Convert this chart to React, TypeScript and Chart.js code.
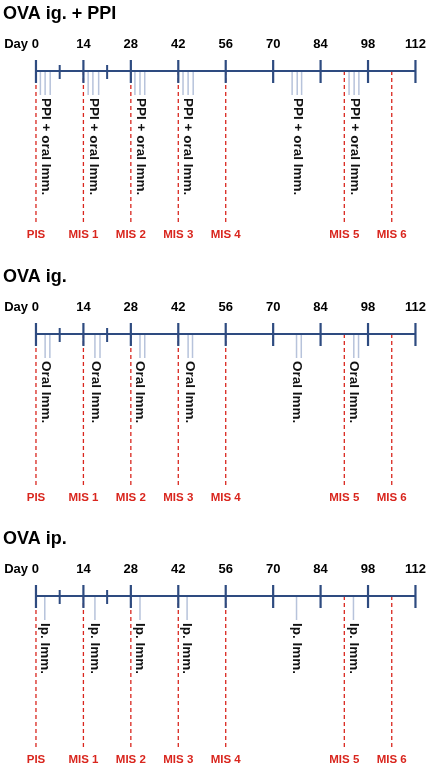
import React, { useEffect, useRef } from "react";
import { Chart, registerables } from "chart.js";

Chart.register(...registerables);

// ---------------- data ----------------
const MAJOR_DAYS = [0, 14, 28, 42, 56, 70, 84, 98, 112];
const MINOR_DAYS = [7, 21];
const MIS_DAYS = [0, 14, 28, 42, 56, 91, 105];
const MIS_LABELS = ["PIS", "MIS 1", "MIS 2", "MIS 3", "MIS 4", "MIS 5", "MIS 6"];

const PANEL_TITLES = ["OVA ig. + PPI", "OVA ig.", "OVA ip."];
const IMM_TEXTS = ["PPI + oral Imm.", "Oral Imm.", "Ip. Imm."];

const PPI_IMM_DAYS = [
  1.3, 2.7, 4.2, 15.4, 16.8, 18.5, 29.2, 30.7, 32.1, 43.4, 44.9, 46.4, 75.6,
  77.1, 78.4, 92.4, 93.9, 95.3,
];
const ORAL_IMM_DAYS = [
  2.7, 4.1, 17.4, 18.9, 30.7, 32.1, 44.9, 46.2, 76.9, 78.3, 93.8, 95.2,
];
const IP_IMM_DAYS = [2.6, 17.4, 30.7, 44.6, 76.9, 93.7];

const PPI_LABEL_DAYS = [2.8, 17.1, 30.8, 44.9, 77.2, 94.0];
const ORAL_LABEL_DAYS = [2.9, 17.6, 30.6, 45.3, 77.1, 93.9];
const IP_LABEL_DAYS = [2.6, 17.4, 30.7, 44.6, 76.9, 93.7];

const IMM_DAYS = [PPI_IMM_DAYS, ORAL_IMM_DAYS, IP_IMM_DAYS];
const LABEL_DAYS = [PPI_LABEL_DAYS, ORAL_LABEL_DAYS, IP_LABEL_DAYS];

// ---------------- style / layout ----------------
const FONT = '"Liberation Sans", Arial, Helvetica, sans-serif';
const NAVY = "#2e4b80";
const RED = "#d9261e";
const LIGHT = "#b7c3db";

const W = 430;
const H = 243;
const PAD_LR = 3;
const DAY0_PX = 35;
const DAY112_PX = 416;
const PX_PER_DAY = (DAY112_PX - DAY0_PX) / 112;
const X_MIN = -(DAY0_PX - PAD_LR) / PX_PER_DAY;
const X_MAX = 112 + (W - PAD_LR - DAY112_PX) / PX_PER_DAY;

const AREA_TOP = 56;
const AXIS_Y = 71;
const AREA_BOTTOM = 225;
const TITLE_PAD_TOP = 3;
const TITLE_SIZE = 18;
const TITLE_BOX = TITLE_SIZE * 1.2 + TITLE_PAD_TOP;

const PANEL_TOPS = [0, 263, 525];

function segments(days: number[], y0: number, y1: number) {
  const out: any[] = [];
  days.forEach((d) => {
    out.push({ x: d, y: y0 }, { x: d, y: y1 }, { x: d, y: null });
  });
  return out;
}

function lineDs(data: any[], color: string, width: number, order: number, dash: number[] = []) {
  return {
    type: "line" as const,
    data,
    borderColor: color,
    backgroundColor: color,
    borderWidth: width,
    borderDash: dash,
    borderCapStyle: "butt" as const,
    pointRadius: 0,
    pointHoverRadius: 0,
    showLine: true,
    spanGaps: false,
    fill: false,
    tension: 0,
    order,
    clip: false as any,
  };
}

function labelPlugin(days: number[], text: string) {
  return {
    id: "immLabels",
    afterDatasetsDraw(chart: any) {
      const { ctx } = chart;
      const x = chart.scales.x;
      const y = chart.scales.y;
      ctx.save();
      ctx.font = `bold 13.5px ${FONT}`;
      ctx.fillStyle = "#111";
      ctx.textAlign = "left";
      ctx.textBaseline = "middle";
      days.forEach((d) => {
        ctx.save();
        ctx.translate(x.getPixelForValue(d), y.getPixelForValue(27));
        ctx.rotate(Math.PI / 2);
        ctx.fillText(text, 0, 0);
        ctx.restore();
      });
      ctx.restore();
    },
  };
}

function Panel({ idx }: { idx: number }) {
  const ref = useRef<HTMLCanvasElement | null>(null);
  useEffect(() => {
    if (!ref.current) return;
    const chart = new Chart(ref.current, {
      type: "line",
      data: {
        datasets: [
          lineDs(segments(MIS_DAYS, 0, AREA_BOTTOM - AXIS_Y), RED, 1.3, 5, [4, 3]),
          lineDs(segments(IMM_DAYS[idx], 1, 24), LIGHT, 1.5, 4),
          lineDs([{ x: 0, y: 0 }, { x: 112, y: 0 }], NAVY, 2, 3),
          lineDs(segments(MAJOR_DAYS, -11, 12), NAVY, 2.2, 2),
          lineDs(segments(MINOR_DAYS, -6, 8), NAVY, 2, 1),
        ] as any,
      },
      options: {
        animation: false,
        responsive: false,
        events: [],
        layout: { padding: { left: PAD_LR, right: PAD_LR, top: 0, bottom: 0 } },
        plugins: {
          legend: { display: false },
          tooltip: { enabled: false },
          title: {
            display: true,
            text: PANEL_TITLES[idx],
            align: "start",
            color: "#000",
            font: { family: FONT, size: TITLE_SIZE, weight: "bold" },
            padding: { top: TITLE_PAD_TOP, bottom: 0 },
          },
        },
        scales: {
          x: {
            type: "linear",
            position: "top",
            min: X_MIN,
            max: X_MAX,
            grid: { display: false, drawTicks: false },
            border: { display: false },
            ticks: {
              autoSkip: false,
              maxRotation: 0,
              minRotation: 0,
              padding: 4,
              color: "#000",
              font: { family: FONT, size: 13, weight: "bold" },
              callback: (v: any) => (Number(v) === 0 ? "Day 0" + " ".repeat(8) : String(v)),
            },
            afterBuildTicks: (s: any) => {
              s.ticks = MAJOR_DAYS.map((v) => ({ value: v }));
            },
            afterFit: (s: any) => {
              s.height = AREA_TOP - TITLE_BOX;
            },
          },
          x2: {
            type: "linear",
            position: "bottom",
            min: X_MIN,
            max: X_MAX,
            grid: { display: false, drawTicks: false },
            border: { display: false },
            ticks: {
              autoSkip: false,
              maxRotation: 0,
              minRotation: 0,
              padding: 3,
              color: RED,
              font: { family: FONT, size: 11.5, weight: "bold" },
              callback: (_v: any, i: number) => MIS_LABELS[i],
            },
            afterBuildTicks: (s: any) => {
              s.ticks = MIS_DAYS.map((v) => ({ value: v }));
            },
            afterFit: (s: any) => {
              s.height = H - AREA_BOTTOM;
            },
          },
          y: {
            type: "linear",
            display: false,
            reverse: true,
            min: AREA_TOP - AXIS_Y,
            max: AREA_BOTTOM - AXIS_Y,
          },
        },
      } as any,
      plugins: [labelPlugin(LABEL_DAYS[idx], IMM_TEXTS[idx])],
    });
    return () => chart.destroy();
  }, [idx]);
  return (
    <div style={{ position: "absolute", left: 0, top: PANEL_TOPS[idx], width: W, height: H }}>
      <canvas ref={ref} width={W} height={H} style={{ display: "block" }} />
    </div>
  );
}

export default function App() {
  return (
    <div
      style={{
        position: "absolute",
        left: 0,
        top: 0,
        width: 430,
        height: 768,
        background: "#fff",
        overflow: "hidden",
      }}
    >
      {PANEL_TITLES.map((_, i) => (
        <Panel key={i} idx={i} />
      ))}
    </div>
  );
}
